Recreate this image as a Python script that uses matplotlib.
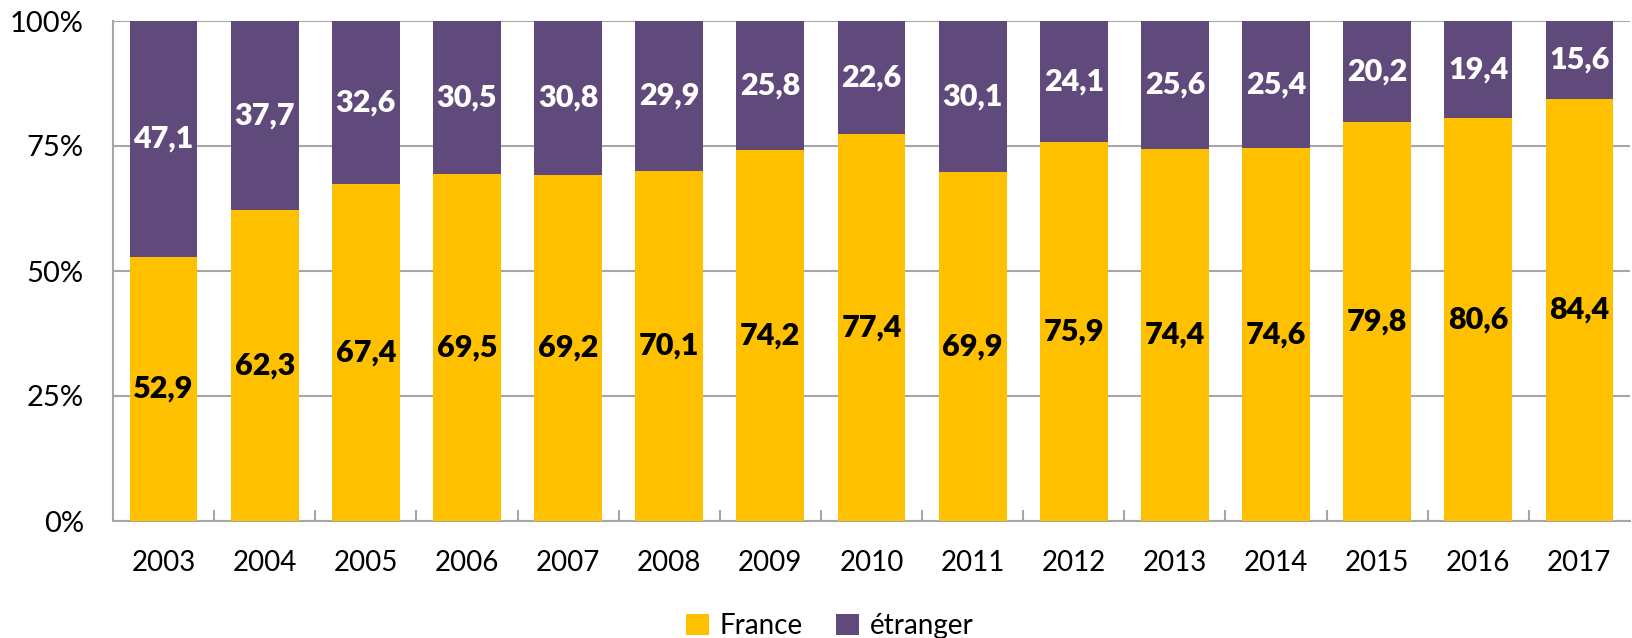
import matplotlib
matplotlib.use("Agg")
import matplotlib.pyplot as plt
import numpy as np

years = ["2003", "2004", "2005", "2006", "2007", "2008", "2009", "2010",
         "2011", "2012", "2013", "2014", "2015", "2016", "2017"]
france = [52.9, 62.3, 67.4, 69.5, 69.2, 70.1, 74.2, 77.4, 69.9, 75.9, 74.4, 74.6, 79.8, 80.6, 84.4]
etranger = [47.1, 37.7, 32.6, 30.5, 30.8, 29.9, 25.8, 22.6, 30.1, 24.1, 25.6, 25.4, 20.2, 19.4, 15.6]
y_ticks = [0, 25, 50, 75, 100]
y_labels = ["0%", "25%", "50%", "75%", "100%"]

c_fr = "#FFC000"
c_et = "#604A7B"
grid_c = "#A6A6A6"

plt.rcParams['font.family'] = ['Lato', 'DejaVu Sans']

fig = plt.figure(figsize=(16.33, 6.38), dpi=100)
ax = fig.add_axes([113/1633, 1 - 521/638, (1630-113)/1633, 500/638])

x = np.arange(len(years))
w = 0.67
b1 = ax.bar(x, france, w, color=c_fr, label="France", zorder=3)
b2 = ax.bar(x, etranger, w, bottom=france, color=c_et, label="étranger", zorder=3)

for xi, f, e in zip(x, france, etranger):
    ax.text(xi, f/2, f"{f:.1f}".replace(".", ","), ha="center", va="center",
            fontsize=22, fontweight="heavy", color="black", zorder=4)
    ax.text(xi, f + e/2, f"{e:.1f}".replace(".", ","), ha="center", va="center",
            fontsize=22, fontweight="heavy", color="white", zorder=4)

ax.set_xlim(-0.5, len(years) - 0.5)
ax.set_ylim(0, 100)
ax.set_yticks(y_ticks)
ax.set_yticklabels(y_labels, fontsize=21)
ax.set_xticks(x)
ax.set_xticklabels(years, fontsize=20)
ax.tick_params(axis="y", length=0, pad=21)
ax.tick_params(axis="x", length=0, pad=21)
# minor ticks between categories
ax.set_xticks(np.arange(0.5, len(years) - 0.5, 1), minor=True)
ax.tick_params(axis="x", which="minor", direction="in", length=8, color=grid_c, width=1.5)
ax.yaxis.grid(True, color=grid_c, linewidth=1.5, zorder=0)
for s in ["top", "right"]:
    ax.spines[s].set_visible(False)
for s in ["left", "bottom"]:
    ax.spines[s].set_color(grid_c)
    ax.spines[s].set_linewidth(1.5)

leg = fig.legend(handles=[b1, b2], labels=["France", "étranger"], loc="center",
                 bbox_to_anchor=(830/1633, 1 - 626/638), ncol=2, frameon=False,
                 fontsize=20, handlelength=0.8, handleheight=0.8, handletextpad=0.4,
                 columnspacing=1.2)

fig.savefig("out.png", dpi=100)
